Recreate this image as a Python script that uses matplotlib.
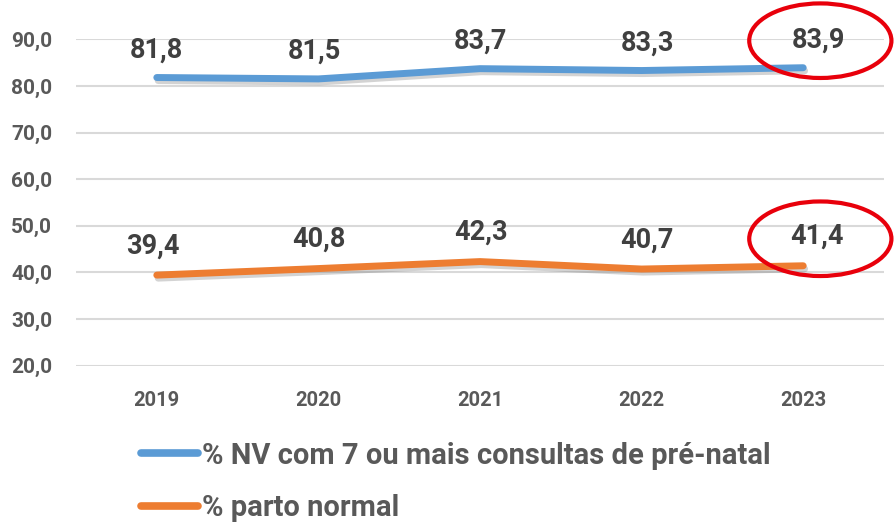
import matplotlib
matplotlib.use("Agg")
import matplotlib.pyplot as plt
from matplotlib.patches import Ellipse
import matplotlib.patheffects as pe
from matplotlib import font_manager
from matplotlib.font_manager import FontProperties
import os

years = ["2019", "2020", "2021", "2022", "2023"]
prenatal = [81.8, 81.5, 83.7, 83.3, 83.9]
parto = [39.4, 40.8, 42.3, 40.7, 41.4]
series_names = ["% NV com 7 ou mais consultas de pré-natal", "% parto normal"]
yticks = [20, 30, 40, 50, 60, 70, 80, 90]

# horizontal nudges (points) of the data labels, as placed in the original
label_dx_top = [0, -3, 0, 4, 11]
label_dx_bot = [-3, 0, 1, 4, 10]


def find_bold():
    for fam in ["Roboto", "Liberation Sans"]:
        for f in font_manager.fontManager.ttflist:
            base = os.path.basename(f.fname).lower()
            if f.name == fam and "bold" in base and "italic" not in base and "semi" not in base \
                    and "extra" not in base and "condensed" not in base and "[" not in base:
                return f.fname
    return None


bold_file = find_bold()


def fp(size):
    if bold_file:
        return FontProperties(fname=bold_file, size=size)
    return FontProperties(family="DejaVu Sans", weight="bold", size=size)


W, H = 894, 527
fig = plt.figure(figsize=(W / 100, H / 100), dpi=100)
ax = fig.add_axes([76 / W, 1 - 365.5 / H, (884 - 76) / W, (365.5 - 39.3) / H])

blue = "#5B9BD5"
orange = "#ED7D31"
txt = "#404040"
tick_c = "#595959"

x = list(range(len(years)))
shadow = [pe.SimpleLineShadow(offset=(1.0, -2.2), shadow_color="#707070", alpha=0.3), pe.Normal()]
l1, = ax.plot(x, prenatal, color=blue, lw=5, solid_capstyle="round", path_effects=shadow, zorder=3)
l2, = ax.plot(x, parto, color=orange, lw=5, solid_capstyle="round", path_effects=shadow, zorder=3)

for xi, v, dx in zip(x, prenatal, label_dx_top):
    ax.annotate(f"{v:.1f}".replace(".", ","), (xi, v), xytext=(dx, 20), textcoords="offset points",
                ha="center", va="center", fontproperties=fp(19.5), color=txt)
for xi, v, dx in zip(x, parto, label_dx_bot):
    ax.annotate(f"{v:.1f}".replace(".", ","), (xi, v), xytext=(dx, 21), textcoords="offset points",
                ha="center", va="center", fontproperties=fp(19.5), color=txt)

# red highlight ellipses around the 2023 labels
for v in (prenatal[-1], parto[-1]):
    e = Ellipse((x[-1] + 0.106, v + 5.8), width=0.88, height=16.0, fill=False,
                edgecolor="#E8000B", lw=3.0, clip_on=False, zorder=5)
    ax.add_patch(e)

ax.set_xlim(-0.5, len(years) - 0.5)
ax.set_ylim(20, 90)
ax.set_yticks(yticks)
ax.set_yticklabels([f"{t:.1f}".replace(".", ",") for t in yticks], fontproperties=fp(15))
ax.set_xticks(x)
ax.set_xticklabels(years, fontproperties=fp(14.5))
ax.grid(axis="y", color="#D9D9D9", lw=1.5, zorder=0)
ax.set_axisbelow(True)
for s in ax.spines.values():
    s.set_visible(False)
ax.tick_params(axis="both", length=0, labelcolor=tick_c)
ax.tick_params(axis="y", pad=17)
ax.tick_params(axis="x", pad=18)

leg = fig.legend([l1, l2], series_names, loc="center left", bbox_to_anchor=(141 / W, 1 - 482 / H),
                 frameon=False, handlelength=1.95, handletextpad=0.15, labelspacing=0.85,
                 borderpad=0, borderaxespad=0, prop=fp(21))
for t in leg.get_texts():
    t.set_color(tick_c)
for h in leg.legend_handles:
    h.set_linewidth(5.5)
    h.set_solid_capstyle("round")
    h.set_path_effects([])

fig.savefig("out.png", dpi=100)
